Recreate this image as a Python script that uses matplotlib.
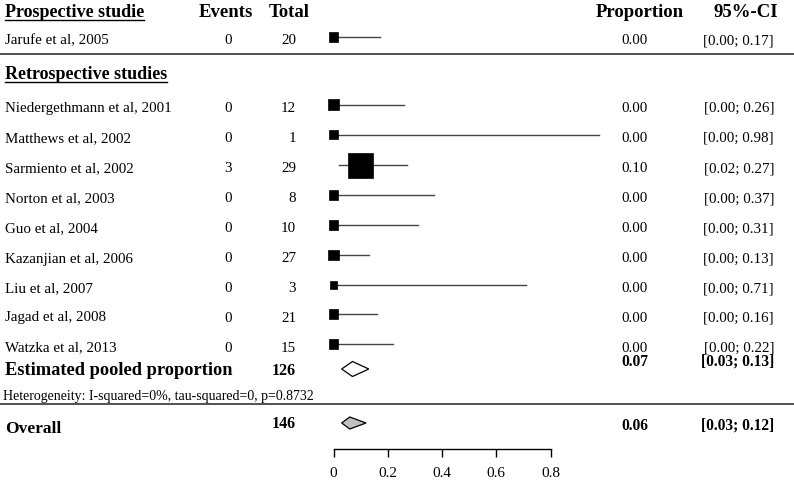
import matplotlib
matplotlib.use('Agg')
import matplotlib.pyplot as plt
from matplotlib.patches import Rectangle, Polygon
import numpy as np

matplotlib.rcParams['font.family'] = 'Liberation Serif'

# ---- data ----
prosp_names = ['Jarufe et al, 2005']
prosp_events = [0]
prosp_total = [20]
prosp_prop = [0.00]
prosp_lo = [0.00]
prosp_hi = [0.17]
prosp_w = [6.5]

retro_names = ['Niedergethmann et al, 2001', 'Matthews et al, 2002', 'Sarmiento et al, 2002',
               'Norton et al, 2003', 'Guo et al, 2004', 'Kazanjian et al, 2006',
               'Liu et al, 2007', 'Jagad et al, 2008', 'Watzka et al, 2013']
retro_events = [0, 0, 3, 0, 0, 0, 0, 0, 0]
retro_total = [12, 1, 29, 8, 10, 27, 3, 21, 15]
retro_prop = [0.00, 0.00, 0.10, 0.00, 0.00, 0.00, 0.00, 0.00, 0.00]
retro_lo = [0.00, 0.00, 0.02, 0.00, 0.00, 0.00, 0.00, 0.00, 0.00]
retro_hi = [0.26, 0.98, 0.27, 0.37, 0.31, 0.13, 0.71, 0.16, 0.22]
retro_w = [7.5, 6.5, 41, 6.5, 6.5, 7, 4, 6.5, 6.5]

pooled = (0.07, 0.03, 0.13)
pooled_total = 126
overall = (0.06, 0.03, 0.12)
overall_total = 146
het_text = 'Heterogeneity: I-squared=0%, tau-squared=0, p=0.8732'
ticks = [0, 0.2, 0.4, 0.6, 0.8]
tick_labels = ['0', '0.2', '0.4', '0.6', '0.8']

# ---- layout (pixels) ----
W, H = 794, 482
x0, scale = 333.5, 271.25          # pixel of proportion 0, px per unit
axis_y = 449
prosp_y = [37]
retro_y = [104.5, 134.5, 165, 195, 225, 255, 285, 314, 344]
pooled_y, overall_y = 369, 423
txt_dy = 7.5
col_name, col_ev, col_tot, col_prop, col_ci = 5, 232, 296, 635, 774

fig = plt.figure(figsize=(W / 100, H / 100), dpi=100)
ax = fig.add_axes([0, 0, 1, 1])
ax.set_xlim(0, W)
ax.set_ylim(H, 0)
ax.axis('off')

fx = fig.add_axes([0, (H - axis_y) / H, 1, axis_y / H])
fx.patch.set_alpha(0)
fx.set_xlim(-x0 / scale, (W - x0) / scale)
fx.set_ylim(axis_y, 0)
for s in ['left', 'right', 'top']:
    fx.spines[s].set_visible(False)
fx.spines['bottom'].set_bounds(0, 0.8)
fx.spines['bottom'].set_linewidth(1.0)
fx.set_yticks([])
fx.set_xticks(ticks)
fx.set_xticklabels(tick_labels)
fx.tick_params(axis='x', direction='out', length=6, width=1.0, pad=7, labelsize=11)

fs = 10.8
hfs = 13.5


def row_text(y, name, ev, tot, p, lo, hi):
    yb = y + txt_dy
    ax.text(col_name, yb, name, fontsize=fs, va='baseline', ha='left')
    ax.text(col_ev, yb, str(ev), fontsize=fs, va='baseline', ha='right')
    ax.text(col_tot, yb, str(tot), fontsize=fs, va='baseline', ha='right')
    ax.text(col_prop, yb, '%.2f' % p, fontsize=fs, va='baseline', ha='center')
    ax.text(col_ci, yb, '[%.2f; %.2f]' % (lo, hi), fontsize=fs, va='baseline', ha='right')


def study(y, p, lo, hi, w):
    fx.plot([lo, hi], [y, y], color='#444444', lw=1.0, clip_on=False, zorder=2)
    size = 25 * np.sqrt(w / 41.0)
    fx.add_patch(Rectangle((p - size / 2 / scale, y - size / 2), size / scale, size,
                           facecolor='black', edgecolor='black', lw=0.5,
                           clip_on=False, zorder=3))


def diamond(y, est, h, face):
    p, lo, hi = est
    fx.add_patch(Polygon([(lo, y), (p, y - h / 2), (hi, y), (p, y + h / 2)], closed=True,
                         facecolor=face, edgecolor='black', lw=0.9, clip_on=False, zorder=3))


# headers
hdr = ax.text(col_name, 17, 'Prospective studie', fontsize=13, fontweight='bold', va='baseline')
ax.text(253, 17, 'Events', fontsize=hfs, fontweight='bold', va='baseline', ha='right')
ax.text(310, 17, 'Total', fontsize=hfs, fontweight='bold', va='baseline', ha='right')
ax.text(640, 17, 'Proportion', fontsize=hfs, fontweight='bold', va='baseline', ha='center')
ax.text(778, 17, '95%-CI', fontsize=hfs, fontweight='bold', va='baseline', ha='right')

for i in range(len(prosp_names)):
    row_text(prosp_y[i], prosp_names[i], prosp_events[i], prosp_total[i],
             prosp_prop[i], prosp_lo[i], prosp_hi[i])
    study(prosp_y[i], prosp_prop[i], prosp_lo[i], prosp_hi[i], prosp_w[i])

ax.plot([0, W], [54, 54], color='#333333', lw=1.2)

hdr2 = ax.text(col_name, 79, 'Retrospective studies', fontsize=13, fontweight='bold', va='baseline')

for i in range(len(retro_names)):
    row_text(retro_y[i], retro_names[i], retro_events[i], retro_total[i],
             retro_prop[i], retro_lo[i], retro_hi[i])
    study(retro_y[i], retro_prop[i], retro_lo[i], retro_hi[i], retro_w[i])

# pooled
ax.text(col_name, pooled_y + 6, 'Estimated pooled proportion', fontsize=13.2, fontweight='bold', va='baseline')
ax.text(col_tot, pooled_y + 6, str(pooled_total), fontsize=11.5, fontweight='bold', va='baseline', ha='right')
ax.text(col_prop, pooled_y - 3, '%.2f' % pooled[0], fontsize=11.2, fontweight='bold', va='baseline', ha='center')
ax.text(col_ci, pooled_y - 3, '[%.2f; %.2f]' % pooled[1:], fontsize=11.2, fontweight='bold', va='baseline', ha='right')
diamond(pooled_y, pooled, 15, 'white')

ax.text(3, 400, het_text, fontsize=10, va='baseline', ha='left')
ax.plot([0, W], [404, 404], color='#333333', lw=1.2)

# overall
ax.text(col_name, overall_y + 10, 'Overall', fontsize=12.5, fontweight='bold', va='baseline')
ax.text(col_tot, overall_y + 5, str(overall_total), fontsize=11.5, fontweight='bold', va='baseline', ha='right')
ax.text(col_prop, overall_y + 7, '%.2f' % overall[0], fontsize=11.2, fontweight='bold', va='baseline', ha='center')
ax.text(col_ci, overall_y + 7, '[%.2f; %.2f]' % overall[1:], fontsize=11.2, fontweight='bold', va='baseline', ha='right')
diamond(overall_y, overall, 12, '#c0c0c0')

# underline the section headings
fig.canvas.draw()
inv = ax.transData.inverted()
for t, yu in [(hdr, 19.5), (hdr2, 81.5)]:
    bb = t.get_window_extent()
    xa = inv.transform((bb.x0, 0))[0]
    xb = inv.transform((bb.x1, 0))[0]
    ax.plot([xa, xb], [yu, yu], color='black', lw=1.0)

plt.savefig('out.png', dpi=100)
